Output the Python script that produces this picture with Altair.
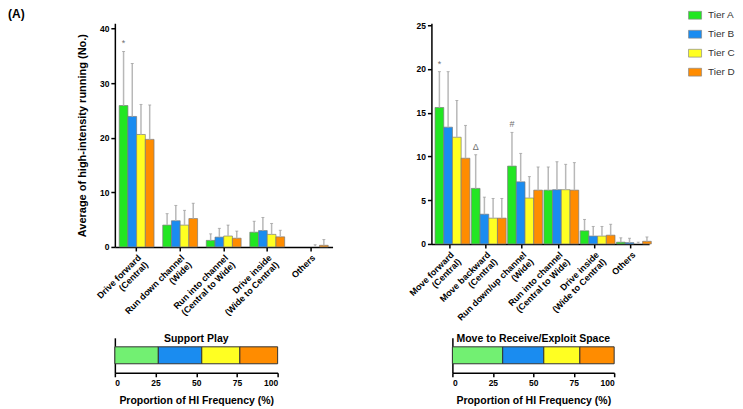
import altair as alt
import pandas as pd

FONT = "Liberation Sans"
tiers = ["Tier A", "Tier B", "Tier C", "Tier D"]
bar_colors = ["#22e622", "#1a8cf0", "#ffff22", "#ff8c00"]
prop_colors = ["#72f072", "#1a8cf0", "#ffff22", "#ff8c00"]

# ---- Support Play (left panel) ----
sp_cats = ["Drive forward|(Central)", "Run down channel|(Wide)",
           "Run into channel|(Central to Wide)", "Drive inside|(Wide to Central)", "Others"]
sp_a = [25.9, 4.0, 1.2, 2.7, 0.0]
sp_b = [23.9, 4.8, 1.8, 3.0, 0.0]
sp_c = [20.6, 4.0, 2.0, 2.3, 0.0]
sp_d = [19.7, 5.2, 1.6, 1.85, 0.3]
sp_a_sd = [9.9, 2.1, 1.2, 2.0, 0.0]
sp_b_sd = [9.7, 2.8, 1.6, 2.4, 0.0]
sp_c_sd = [5.5, 2.7, 2.0, 2.0, 0.4]
sp_d_sd = [6.3, 2.8, 1.3, 1.2, 1.05]
sp_ann_cat = ["Drive forward|(Central)"]
sp_ann_tier = ["Tier A"]
sp_ann_sym = ["*"]
sp_ann_y = [37.3]

# ---- Move to Receive/Exploit Space (right panel) ----
mr_cats = ["Move forward|(Central)", "Move backward|(Central)", "Run down/up channel|(Wide)",
           "Run into channel|(Central to Wide)", "Drive inside|(Wide to Central)", "Others"]
mr_a = [15.6, 6.35, 8.9, 6.15, 1.5, 0.2]
mr_b = [13.35, 3.4, 7.1, 6.2, 0.9, 0.15]
mr_c = [12.2, 2.95, 5.25, 6.2, 0.9, 0.0]
mr_d = [9.8, 2.95, 6.15, 6.15, 1.0, 0.3]
mr_a_sd = [4.1, 3.85, 3.85, 2.65, 1.3, 0.5]
mr_b_sd = [6.35, 1.95, 3.25, 3.2, 1.1, 0.5]
mr_c_sd = [4.2, 2.25, 2.45, 2.9, 1.1, 0.2]
mr_d_sd = [3.75, 2.25, 2.65, 3.15, 1.25, 0.5]
mr_ann_cat = ["Move forward|(Central)", "Move backward|(Central)", "Run down/up channel|(Wide)"]
mr_ann_tier = ["Tier A", "Tier A", "Tier A"]
mr_ann_sym = ["*", "Δ", "#"]
mr_ann_y = [20.6, 11.1, 13.7]

# ---- Proportion of HI frequency (%) ----
sp_prop = [26.7, 26.7, 23.4, 23.2]
mr_prop = [31.1, 25.4, 22.3, 21.2]


def long_df(cats, means, sds):
    rows = []
    for t, m, s in zip(tiers, means, sds):
        for c, mv, sv in zip(cats, m, s):
            rows.append({"cat": c, "tier": t, "mean": mv, "sd": sv, "top": mv + sv})
    return pd.DataFrame(rows)


def prop_df(name, props):
    rows, start = [], 0.0
    for t, p in zip(tiers, props):
        rows.append({"panel": name, "tier": t, "start": start, "end": start + p})
        start += p
    return pd.DataFrame(rows)


def axis_common():
    return dict(domainColor="black", domainWidth=1.5, tickColor="black", tickWidth=1.5,
                tickSize=4, labelColor="black", labelFontWeight="bold", labelFont=FONT,
                grid=False)


def top_panel(df, cats, ann, dmax, ticks, width, height, ytitle, legend, title=None):
    xenc = alt.X("cat:N", sort=cats, title=None,
                 scale=alt.Scale(domain=cats, paddingInner=0.2, paddingOuter=0.1),
                 axis=alt.Axis(labelAngle=315, labelAlign="right", labelBaseline="top",
                               labelExpr="split(datum.label, '|')", labelFontSize=9,
                               labelLineHeight=10, labelPadding=2, labelLimit=200,
                               **axis_common()))
    xoff = alt.XOffset("tier:N", sort=tiers, scale=alt.Scale(domain=tiers))
    yaxis = alt.Axis(values=ticks, labelFontSize=8.5, labelPadding=2,
                     titleFontSize=11, titleFontWeight="bold", titleFont=FONT,
                     titleColor="black", titlePadding=12, **axis_common())
    yscale = alt.Scale(domain=[0, dmax], nice=False)
    base = alt.Chart(df)
    bars = base.transform_filter("datum.mean > 0").mark_bar(
        stroke="#7a7a7a", strokeWidth=0.7).encode(
        x=xenc, xOffset=xoff,
        y=alt.Y("mean:Q", scale=yscale, axis=yaxis, title=ytitle),
        color=alt.Color("tier:N", sort=tiers,
                        scale=alt.Scale(domain=tiers, range=bar_colors), legend=legend))
    err = base.transform_filter("datum.sd > 0").mark_rule(
        color="#b8b8b8", strokeWidth=1.5).encode(
        x=xenc, xOffset=xoff, y=alt.Y("mean:Q", scale=yscale, title=ytitle), y2="top:Q")
    cap = base.transform_filter("datum.sd > 0").mark_tick(
        color="#999999", thickness=1, size=3).encode(
        x=xenc, xOffset=xoff, y=alt.Y("top:Q", scale=yscale, title=ytitle))
    txt = alt.Chart(ann).mark_text(color="#707070", fontSize=9, baseline="middle",
                                   font=FONT).encode(
        x=xenc, xOffset=xoff, y=alt.Y("y:Q", scale=yscale, title=ytitle), text="sym:N")
    props = dict(width=width, height=height)
    if title is not None:
        props["title"] = title
    return alt.layer(bars, err, cap, txt).properties(**props)


def bottom_panel(df, name, width):
    return alt.Chart(df).mark_bar(stroke="#333333", strokeWidth=1).encode(
        x=alt.X("start:Q", scale=alt.Scale(domain=[0, 100], nice=False),
                title="Proportion of HI Frequency (%)",
                axis=alt.Axis(values=[0, 25, 50, 75, 100], labelFontSize=8.5,
                              labelPadding=2, titleFontSize=10.5, titleFontWeight="bold",
                              titleFont=FONT, titleColor="black", titlePadding=8,
                              **axis_common())),
        x2="end:Q",
        y=alt.Y("panel:N", title=None,
                scale=alt.Scale(paddingOuter=0.53, paddingInner=0),
                axis=alt.Axis(labels=False, ticks=False, domainColor="black",
                              domainWidth=1.5, grid=False)),
        color=alt.Color("tier:N", sort=tiers,
                        scale=alt.Scale(domain=tiers, range=prop_colors), legend=None),
    ).properties(width=width, height=35,
                 title=alt.Title(name, fontSize=10.5, fontWeight="bold", font=FONT,
                                 color="black", offset=-7))


sp_df = long_df(sp_cats, [sp_a, sp_b, sp_c, sp_d], [sp_a_sd, sp_b_sd, sp_c_sd, sp_d_sd])
mr_df = long_df(mr_cats, [mr_a, mr_b, mr_c, mr_d], [mr_a_sd, mr_b_sd, mr_c_sd, mr_d_sd])
sp_ann = pd.DataFrame({"cat": sp_ann_cat, "tier": sp_ann_tier, "sym": sp_ann_sym, "y": sp_ann_y})
mr_ann = pd.DataFrame({"cat": mr_ann_cat, "tier": mr_ann_tier, "sym": mr_ann_sym, "y": mr_ann_y})

legend = alt.Legend(title=None, orient="none", legendX=257, legendY=-15,
                    symbolType="M-1,-0.6L1,-0.6L1,0.6L-1,0.6Z", symbolSize=170,
                    symbolStrokeColor="#888888", symbolStrokeWidth=0.7,
                    labelFontSize=10, labelFont=FONT, labelColor="#333333",
                    rowPadding=6, labelOffset=6)

tl = top_panel(sp_df, sp_cats, sp_ann, 40.97, [0, 10, 20, 30, 40], 218, 224,
               "Average of high-intensity running (No.)", None,
               title=alt.Title("(A)", anchor="start", frame="group", dx=-107, offset=2,
                               fontSize=12, fontWeight="bold", font=FONT, color="black"))
tr = top_panel(mr_df, mr_cats, mr_ann, 25.23, [0, 5, 10, 15, 20, 25], 218, 221,
               None, legend)

bl = bottom_panel(prop_df("Support Play", sp_prop), "Support Play", 163)
br = bottom_panel(prop_df("Move to Receive/Exploit Space", mr_prop),
                  "Move to Receive/Exploit Space", 162)

row1 = alt.hconcat(tl, tr, spacing=99, bounds="flush").resolve_scale(
    x="independent", y="independent", color="independent")
row2 = alt.hconcat(bl, br, spacing=175, bounds="flush").resolve_scale(
    x="independent", y="independent", color="independent")

chart = alt.vconcat(row1, row2, spacing=4).resolve_scale(
    x="independent", y="independent", color="independent"
).properties(padding={"left": 0, "top": 0, "right": 0, "bottom": 0}
).configure(font=FONT).configure_view(stroke=None)

chart.save("out.html", embed_options={"renderer": "svg", "actions": False})
